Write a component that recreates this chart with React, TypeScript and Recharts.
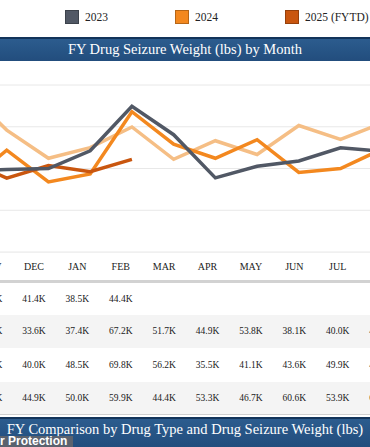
import { LineChart, Line, XAxis, YAxis, CartesianGrid } from "recharts";

const months = ["OCT", "NOV", "DEC", "JAN", "FEB", "MAR", "APR", "MAY", "JUN", "JUL", "AUG", "SEP"];

// thousands of lbs
const fy2022 = [78.0, 58.4, 44.9, 50.0, 59.9, 44.4, 53.3, 46.7, 60.6, 53.9, 61.7, null];
const fy2023 = [39.0, 39.5, 40.0, 48.5, 69.8, 56.2, 35.5, 41.1, 43.6, 49.9, 48.3, null];
const fy2024 = [32.0, 48.8, 33.6, 37.4, 67.2, 51.7, 44.9, 53.8, 38.1, 40.0, 49.3, null];
const fy2025 = [44.0, 35.4, 41.4, 38.5, 44.4, null, null, null, null, null, null, null];

const yTicks = [0, 20, 40, 60, 80];

const series = [
  { key: "y2022", label: "2022", color: "#F5BE85", values: fy2022 },
  { key: "y2023", label: "2023", color: "#515865", values: fy2023 },
  { key: "y2024", label: "2024", color: "#F3881F", values: fy2024 },
  { key: "y2025", label: "2025 (FYTD)", color: "#C9560F", values: fy2025 },
];

// table rows top to bottom
const tableRows = [
  { label: "FY 2025", values: fy2025, bg: "#ffffff" },
  { label: "FY 2024", values: fy2024, bg: "#f4f4f4" },
  { label: "FY 2023", values: fy2023, bg: "#ffffff" },
  { label: "FY 2022", values: fy2022, bg: "#f4f4f4" },
];

const drawOrder = ["y2022", "y2024", "y2025", "y2023"];

const data = months.map((m, i) => {
  const row: Record<string, string | number | null> = { month: m };
  series.forEach((s) => (row[s.key] = s.values[i]));
  return row;
});

const serif = "'Liberation Serif', 'Times New Roman', serif";
const COL = 43.4;

const fmt = (v: number | null) => (v == null ? "" : v.toFixed(1) + "K");

function TitleBar({ top, height, text }: { top: number; height: number; text: string }) {
  return (
    <div
      style={{
        position: "absolute",
        left: 0,
        top,
        width: 370,
        height,
        background: "linear-gradient(#2c5c8e, #224d7d)",
        borderTop: "2px solid #12345a",
        boxSizing: "border-box",
        color: "#fff",
        fontSize: 14.5,
        textAlign: "center",
        whiteSpace: "nowrap",
        lineHeight: height === 24 ? "21px" : "20px",
      }}
    >
      {text}
    </div>
  );
}

export default function App() {
  return (
    <div style={{ position: "relative", width: 370, height: 447, overflow: "hidden", fontFamily: serif, background: "#fff" }}>
      <style>{`body{margin:0}`}</style>

      {/* legend */}
      <div style={{ position: "absolute", top: 9, left: -45, display: "flex" }}>
        {series.map((s) => (
          <div key={s.key} style={{ width: 110, display: "flex", alignItems: "center", height: 16 }}>
            <span style={{ width: 12, height: 12, background: s.color, border: "1px solid rgba(0,0,0,0.25)", marginRight: 6 }} />
            <span style={{ fontSize: 11.5, color: "#222" }}>{s.label}</span>
          </div>
        ))}
      </div>

      <TitleBar top={37} height={24} text="FY Drug Seizure Weight (lbs) by Month" />

      <div style={{ position: "absolute", top: 65, left: -45 }}>
        <LineChart width={479} height={192} data={data} margin={{ top: 20, right: 10, bottom: 5, left: 10 }}>
          <CartesianGrid vertical={false} stroke="#e8e8e8" />
          <XAxis dataKey="month" hide padding={{ left: 0, right: 0 }} />
          <YAxis hide domain={[0, 80]} ticks={yTicks} />
          {drawOrder.map((k) => {
            const s = series.find((x) => x.key === k)!;
            return (
              <Line
                key={k}
                dataKey={k}
                type="linear"
                stroke={s.color}
                strokeWidth={3.5}
                dot={false}
                activeDot={false}
                isAnimationActive={false}
              />
            );
          })}
        </LineChart>
      </div>

      {/* table */}
      <table
        style={{
          position: "absolute",
          top: 252,
          left: -31.1 - COL - 80,
          borderCollapse: "collapse",
          tableLayout: "fixed",
          width: 80 + COL * months.length,
          borderTop: "1px solid #f0f0f0",
          fontFamily: serif,
        }}
      >
        <colgroup>
          <col style={{ width: 80 }} />
          {months.map((m) => (
            <col key={m} style={{ width: COL }} />
          ))}
        </colgroup>
        <thead>
          <tr style={{ height: 29, borderBottom: "3px solid #d2d2d2" }}>
            <th style={{ fontWeight: "normal", fontSize: 10 }}>Fiscal Year</th>
            {months.map((m) => (
              <th key={m} style={{ fontWeight: "normal", fontSize: 10, color: "#222", padding: 0 }}>
                {m}
              </th>
            ))}
          </tr>
        </thead>
        <tbody>
          {tableRows.map((r, ri) => (
            <tr key={r.label} style={{ height: ri === 2 ? 34 : 33, background: r.bg }}>
              <td style={{ fontSize: 9.5, textAlign: "center" }}>{r.label}</td>
              {r.values.map((v, i) => (
                <td key={i} style={{ fontSize: 9.5, textAlign: "center", padding: 0, color: "#222" }}>
                  {fmt(v)}
                </td>
              ))}
            </tr>
          ))}
        </tbody>
      </table>
      <div style={{ position: "absolute", top: 414, left: 0, width: 370, height: 1, background: "#cfcfcf" }} />

      <TitleBar top={417} height={30} text="FY Comparison by Drug Type and Drug Seizure Weight (lbs)" />

      <div
        style={{
          position: "absolute",
          left: 0,
          top: 436,
          width: 73,
          height: 11,
          background: "rgba(95,100,108,0.92)",
          color: "#fff",
          fontFamily: "'Liberation Sans', Arial, sans-serif",
          fontWeight: "bold",
          fontSize: 12,
          lineHeight: "11px",
          whiteSpace: "nowrap",
          overflow: "hidden",
        }}
      >
        r Protection
      </div>
    </div>
  );
}
